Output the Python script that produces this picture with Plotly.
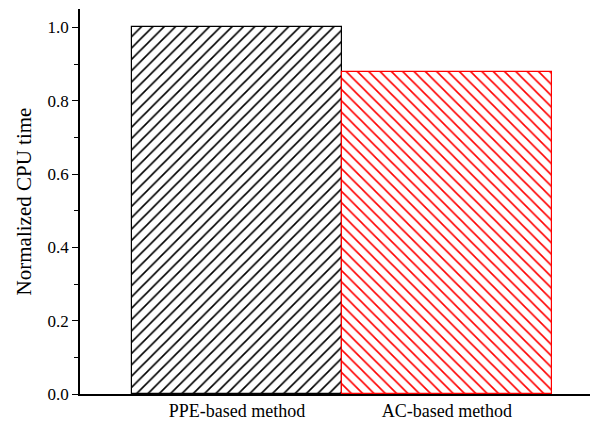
import plotly.graph_objects as go

categories = ["PPE-based method", "AC-based method"]
values = [1.0, 0.878]
colors = ["black", "red"]
shapes = ["/", "\\"]

fig = go.Figure()
for i, (c, v, col, sh) in enumerate(zip(categories, values, colors, shapes)):
    fig.add_trace(go.Bar(
        x=[i], y=[v], width=1.0,
        marker=dict(
            color="white",
            line=dict(color=col, width=1.2),
            pattern=dict(shape=sh, fgcolor=col, fgopacity=1, bgcolor="white",
                         size=8, solidity=0.2, fillmode="overlay"),
        ),
        showlegend=False,
    ))

fig.update_layout(
    width=590, height=421,
    margin=dict(l=72, r=0, t=1, b=35),
    plot_bgcolor="white", paper_bgcolor="white",
    font=dict(family="Liberation Serif, Times New Roman, serif", color="black", size=17),
    bargap=0,
    xaxis=dict(
        range=[-0.748, 1.72], tickmode="array", tickvals=[0, 1], ticktext=categories,
        showline=True, linecolor="black", linewidth=1.5, ticks="", showgrid=False, zeroline=False,
        tickfont=dict(size=18),
    ),
    yaxis=dict(
        range=[0, 1.05], tickmode="array", tickvals=[0, 0.2, 0.4, 0.6, 0.8, 1.0],
        tickformat=".1f", showline=True, linecolor="black", linewidth=1.5,
        ticks="outside", ticklen=6, tickwidth=1.2, tickcolor="black",
        minor=dict(dtick=0.1, ticks="outside", ticklen=4, tickcolor="black", tickwidth=1),
        showgrid=False, zeroline=False,
        title=dict(text="Normalized CPU time", font=dict(size=21), standoff=10),
        tickfont=dict(size=17),
    ),
)

fig.write_html("out.html")
